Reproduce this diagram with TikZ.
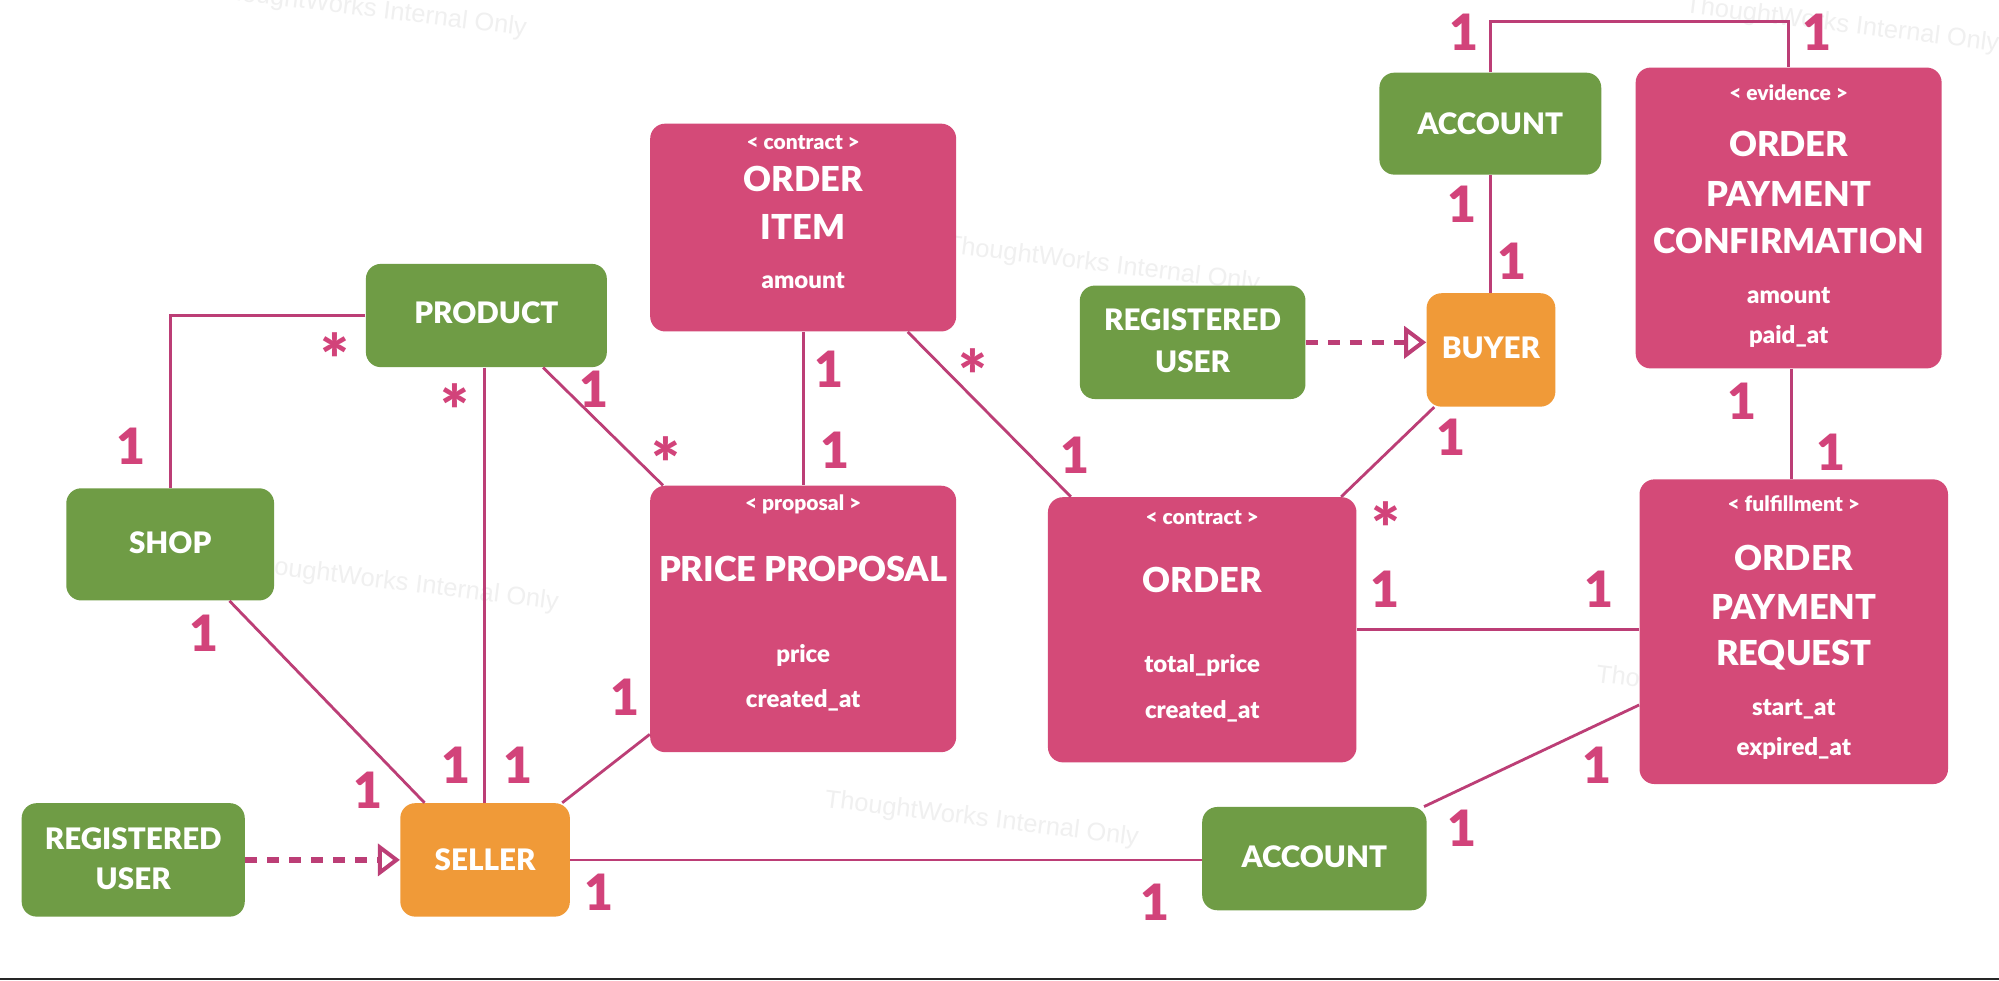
\documentclass[tikz,border=0pt]{standalone}
\usepackage{fontspec}
\IfFontExistsTF{Lato Black}
  {\setmainfont{Lato}[BoldFont={Lato Black}]}
  {\setmainfont{Lato}[BoldFeatures={FakeBold=1.2}]}
\newfontfamily\wmfont{Liberation Sans}
\usetikzlibrary{arrows.meta,calc}
\definecolor{boxpink}{HTML}{D44A78}
\definecolor{boxgreen}{HTML}{6F9C45}
\definecolor{boxorange}{HTML}{F09A38}
\definecolor{linepink}{HTML}{BC3E76}
\definecolor{labpink}{HTML}{D2437A}
\begin{document}
\begin{tikzpicture}[x=0.6375pt, y=-0.6375pt,
  wh/.style 2 args={minimum width=#1*0.6375pt, minimum height=#2*0.6375pt},
  boxbase/.style={rounded corners=7.5pt, inner sep=0pt, draw=none},
  pinkbox/.style={boxbase, fill=boxpink},
  greenbox/.style={boxbase, fill=boxgreen},
  orangebox/.style={boxbase, fill=boxorange},
  stereo/.style={text=white, font=\fontsize{10.5}{12}\selectfont\bfseries, inner sep=0pt},
  title/.style={text=white, font=\fontsize{17.2}{20}\selectfont\bfseries, inner sep=0pt},
  gtitle/.style={text=white, font=\fontsize{14.8}{17}\selectfont\bfseries, inner sep=0pt},
  attr/.style={text=white, font=\fontsize{12}{14}\selectfont\bfseries, inner sep=0pt},
  conn/.style={draw=linepink, line width=1.4pt},
  realize/.style={draw=linepink, line width=2.6pt, dash pattern=on 6pt off 5pt,
    -{Triangle[open, length=11pt, width=16pt, line width=2pt]}},
  mult/.style={text=labpink, font=\fontsize{25}{25}\selectfont\bfseries, inner sep=0pt},
  many/.style={text=labpink, font=\fontsize{34}{34}\selectfont\bfseries, inner sep=0pt, yshift=-7pt},
  wm/.style={text=black!6, font=\wmfont\fontsize{12.7}{14}\selectfont, rotate=-7, inner sep=0pt}
]
\useasboundingbox (0,0) rectangle (1568,769);
\fill[white] (0,0) rectangle (1568,769);

% watermarks
\node[wm] (wm1) at (290,8) {ThoughtWorks Internal Only};
\node[wm] (wm2) at (865,208) {ThoughtWorks Internal Only};
\node[wm] (wm3) at (315,458) {ThoughtWorks Internal Only};
\node[wm] (wm4) at (770,643) {ThoughtWorks Internal Only};
\node[wm] (wm5) at (1445,20) {ThoughtWorks Internal Only};
\node[wm] (wm6) at (1375,545) {ThoughtWorks Internal Only};

% boxes
\node[greenbox, wh={189}{81}] (product) at (381.5,247.5) {};
\node[greenbox, wh={163}{88}] (shop) at (133.5,427) {};
\node[greenbox, wh={175}{89}] (ru1) at (104.5,674.5) {};
\node[orangebox, wh={133}{89}] (seller) at (380.5,674.5) {};
\node[pinkbox, wh={240}{163}] (orderitem) at (630,178.5) {};
\node[pinkbox, wh={240}{209}] (priceproposal) at (630,485.5) {};
\node[pinkbox, wh={242}{208}] (order) at (943,494) {};
\node[greenbox, wh={176}{81}] (account2) at (1031,673.5) {};
\node[greenbox, wh={177}{89}] (ru2) at (935.5,268.5) {};
\node[orangebox, wh={101}{89}] (buyer) at (1169.5,274.5) {};
\node[greenbox, wh={174}{80}] (account1) at (1169,97) {};
\node[pinkbox, wh={240}{236}] (opc) at (1403,171) {};
\node[pinkbox, wh={242}{239}] (opr) at (1407,495.5) {};

% box texts
\node[gtitle] (productT) at (381.5,245) {PRODUCT};
\node[gtitle] (shopT) at (133.5,426) {SHOP};
\node[gtitle] (ru1T1) at (104.5,658) {REGISTERED};
\node[gtitle] (ru1T2) at (104.5,689) {USER};
\node[gtitle] (sellerT) at (380.5,674) {SELLER};
\node[gtitle] (account2T) at (1031,672) {ACCOUNT};
\node[gtitle] (ru2T1) at (935.5,251) {REGISTERED};
\node[gtitle] (ru2T2) at (935.5,284) {USER};
\node[gtitle] (buyerT) at (1169.5,273) {BUYER};
\node[gtitle] (account1T) at (1169,97) {ACCOUNT};

\node[stereo] (oiS) at (630,112) {< contract >};
\node[title] (oiT1) at (630,140) {ORDER};
\node[title] (oiT2) at (630,178) {ITEM};
\node[attr] (oiA1) at (630,220) {amount};

\node[stereo] (ppS) at (630,396) {< proposal >};
\node[title] (ppT) at (630,446) {PRICE PROPOSAL};
\node[attr] (ppA1) at (630,514) {price};
\node[attr] (ppA2) at (630,549) {created\_at};

\node[stereo] (orS) at (943,406) {< contract >};
\node[title] (orT) at (943,455) {ORDER};
\node[attr] (orA1) at (943,522) {total\_price};
\node[attr] (orA2) at (943,558) {created\_at};

\node[stereo] (opcS) at (1403,73) {< evidence >};
\node[title] (opcT1) at (1403,113) {ORDER};
\node[title] (opcT2) at (1403,152) {PAYMENT};
\node[title] (opcT3) at (1403,189) {CONFIRMATION};
\node[attr] (opcA1) at (1403,232) {amount};
\node[attr] (opcA2) at (1403,264) {paid\_at};

\node[stereo] (oprS) at (1407,395) {< fulfillment >};
\node[title] (oprT1) at (1407,438) {ORDER};
\node[title] (oprT2) at (1407,476) {PAYMENT};
\node[title] (oprT3) at (1407,514) {REQUEST};
\node[attr] (oprA1) at (1407,556) {start\_at};
\node[attr] (oprA2) at (1407,587) {expired\_at};

% connectors
\draw[conn] (product.west) -| (shop.north);
\draw[conn] (380,0 |- product.south) -- (380,0 |- seller.north);
\draw[conn] (426,0 |- product.south) -- (520,0 |- priceproposal.north);
\draw[conn] (180,0 |- shop.south) -- (333,0 |- seller.north);
\draw[conn] (441,0 |- seller.north) -- (priceproposal.west |- 0,576);
\draw[realize] (ru1.east) -- (seller.west);
\draw[conn] (seller.east) -- (seller.east -| account2.west);
\draw[conn] (orderitem.south) -- (priceproposal.north);
\draw[conn] (712,0 |- orderitem.south) -- (840,0 |- order.north);
\draw[conn] (1052,0 |- order.north) -- (1125,0 |- buyer.south);
\draw[conn] (order.east) -- (order.east -| opr.west);
\draw[realize] (ru2.east) -- (ru2.east -| buyer.west);
\draw[conn] (account1.south) -- (account1.south |- buyer.north);
\draw[conn] (account1.north) -- ++(0,-40) -| (opc.north);
\draw[conn] (1405,0 |- opc.south) -- (1405,0 |- opr.north);
\draw[conn] (1117,0 |- account2.north) -- (opr.west |- 0,553);

% multiplicities
\node[mult] (m1) at (103,350) {1};
\node[many] (m2) at (263,270) {*};
\node[many] (m3) at (357,310) {*};
\node[mult] (m4) at (466,305) {1};
\node[many] (m5) at (522,352) {*};
\node[mult] (m6) at (160,497) {1};
\node[mult] (m7) at (289,620) {1};
\node[mult] (m8) at (358,600) {1};
\node[mult] (m9) at (406,600) {1};
\node[mult] (m10) at (490,547) {1};
\node[mult] (m11) at (470,700) {1};
\node[mult] (m12) at (906,708) {1};
\node[mult] (m13) at (650,290) {1};
\node[mult] (m14) at (655,353) {1};
\node[many] (m15) at (763,283) {*};
\node[mult] (m16) at (843,357) {1};
\node[many] (m17) at (1087,403) {*};
\node[mult] (m18) at (1138,343) {1};
\node[mult] (m19) at (1086,462) {1};
\node[mult] (m20) at (1254,462) {1};
\node[mult] (m21) at (1147,160) {1};
\node[mult] (m22) at (1186,205) {1};
\node[mult] (m23) at (1148,25) {1};
\node[mult] (m24) at (1425,25) {1};
\node[mult] (m25) at (1366,315) {1};
\node[mult] (m26) at (1436,355) {1};
\node[mult] (m27) at (1147,650) {1};
\node[mult] (m28) at (1253,600) {1};

% bottom rule
\draw[black!85, line width=1.3pt] (0,768) -- (1568,768);
\end{tikzpicture}
\end{document}
